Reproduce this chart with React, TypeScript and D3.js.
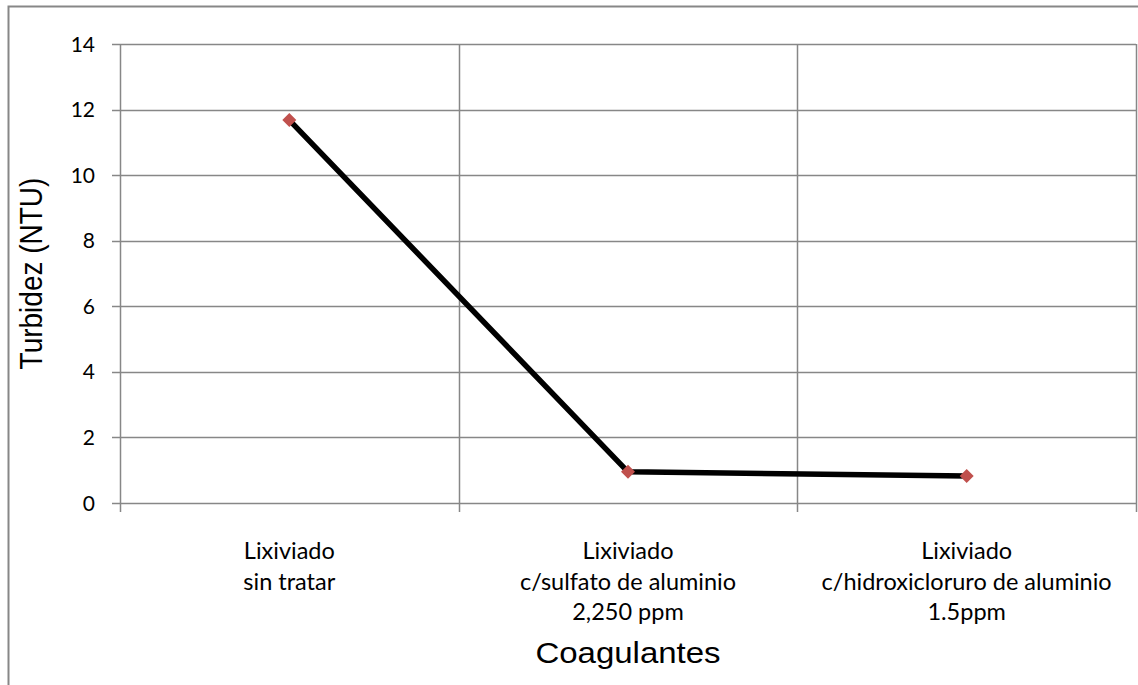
import * as d3 from 'd3';
import React, { useEffect, useRef } from 'react';

const categories = [
  ['Lixiviado', 'sin tratar'],
  ['Lixiviado', 'c/sulfato de aluminio', '2,250 ppm'],
  ['Lixiviado', 'c/hidroxicloruro de aluminio', '1.5ppm'],
];
const turbidity = [11.68, 0.95, 0.82];
const yTicks = [0, 2, 4, 6, 8, 10, 12, 14];

const WIDTH = 1138;
const HEIGHT = 685;
const margin = { top: 44, left: 120, right: 2, bottom: 182 };
const GRID = '#878787';
const LABEL_FONT = 'Lato, "Open Sans", sans-serif';
const TITLE_FONT = '"Liberation Sans", Arial, sans-serif';

export default function App() {
  const ref = useRef<SVGSVGElement>(null);

  useEffect(() => {
    const svg = d3.select(ref.current);
    svg.selectAll('*').remove();

    const x0 = margin.left;
    const x1 = WIDTH - margin.right;
    const y0 = HEIGHT - margin.bottom;
    const y1 = margin.top;

    const x = d3.scaleBand<number>().domain(d3.range(categories.length)).range([x0, x1]);
    const y = d3.scaleLinear().domain([0, 14]).range([y0, y1]);

    // outer chart frame
    svg.append('rect')
      .attr('x', 8.5).attr('y', 6.5)
      .attr('width', WIDTH + 10).attr('height', HEIGHT + 10)
      .attr('fill', 'white').attr('stroke', GRID).attr('stroke-width', 2);

    const g = svg.append('g');

    // horizontal grid + tick marks
    g.selectAll('line.h').data(yTicks).enter().append('line')
      .attr('x1', x0 - 8).attr('x2', x1)
      .attr('y1', d => Math.round(y(d)) + 0.5).attr('y2', d => Math.round(y(d)) + 0.5)
      .attr('stroke', GRID).attr('stroke-width', 1.5);

    // vertical category grid + ticks
    const bounds = d3.range(categories.length + 1).map(i => x0 + i * x.step());
    g.selectAll('line.v').data(bounds).enter().append('line')
      .attr('x1', d => Math.round(d) + 0.5).attr('x2', d => Math.round(d) + 0.5)
      .attr('y1', y1).attr('y2', y0 + 9)
      .attr('stroke', GRID).attr('stroke-width', 1.5);

    // y tick labels
    g.selectAll('text.yt').data(yTicks).enter().append('text')
      .attr('x', x0 - 25).attr('y', d => y(d))
      .attr('dy', '0.36em').attr('text-anchor', 'end')
      .style('font-family', LABEL_FONT)
      .style('font-size', '21px').attr('fill', '#000')
      .text(d => d);

    // category labels
    categories.forEach((lines, i) => {
      const cx = (x(i) ?? 0) + x.bandwidth() / 2;
      const t = g.append('text').attr('text-anchor', 'middle')
        .style('font-family', LABEL_FONT)
        .style('font-size', '23.5px').attr('fill', '#000');
      lines.forEach((l, j) => {
        t.append('tspan').attr('x', cx).attr('y', 559 + j * 30.5).text(l);
      });
    });

    // axis titles (source chart is a bit stretched horizontally)
    g.append('text')
      .attr('transform', `translate(42, ${(y0 + y1) / 2}) rotate(-90) scale(1, 1.1)`)
      .attr('text-anchor', 'middle')
      .style('font-family', TITLE_FONT)
      .style('font-size', '28px').text('Turbidez (NTU)');
    g.append('text')
      .attr('transform', `translate(${(x0 + x1) / 2}, 663) scale(1.1, 1)`)
      .attr('text-anchor', 'middle')
      .style('font-family', TITLE_FONT)
      .style('font-size', '30px').text('Coagulantes');

    // line
    const pts = turbidity.map((v, i) => [(x(i) ?? 0) + x.bandwidth() / 2, y(v)] as [number, number]);
    g.append('path')
      .attr('d', d3.line()(pts) ?? '')
      .attr('fill', 'none').attr('stroke', '#000').attr('stroke-width', 5.5)
      .attr('stroke-linejoin', 'round');

    // markers
    g.selectAll('path.m').data(pts).enter().append('path')
      .attr('d', d3.symbol().type(d3.symbolDiamond2).size(125)() ?? '')
      .attr('transform', d => `translate(${d[0]},${d[1]})`)
      .attr('fill', '#C0504D');
  }, []);

  return (
    <svg ref={ref} width={WIDTH} height={HEIGHT}
      style={{ position: 'absolute', left: 0, top: 0, background: 'white' }} />
  );
}
